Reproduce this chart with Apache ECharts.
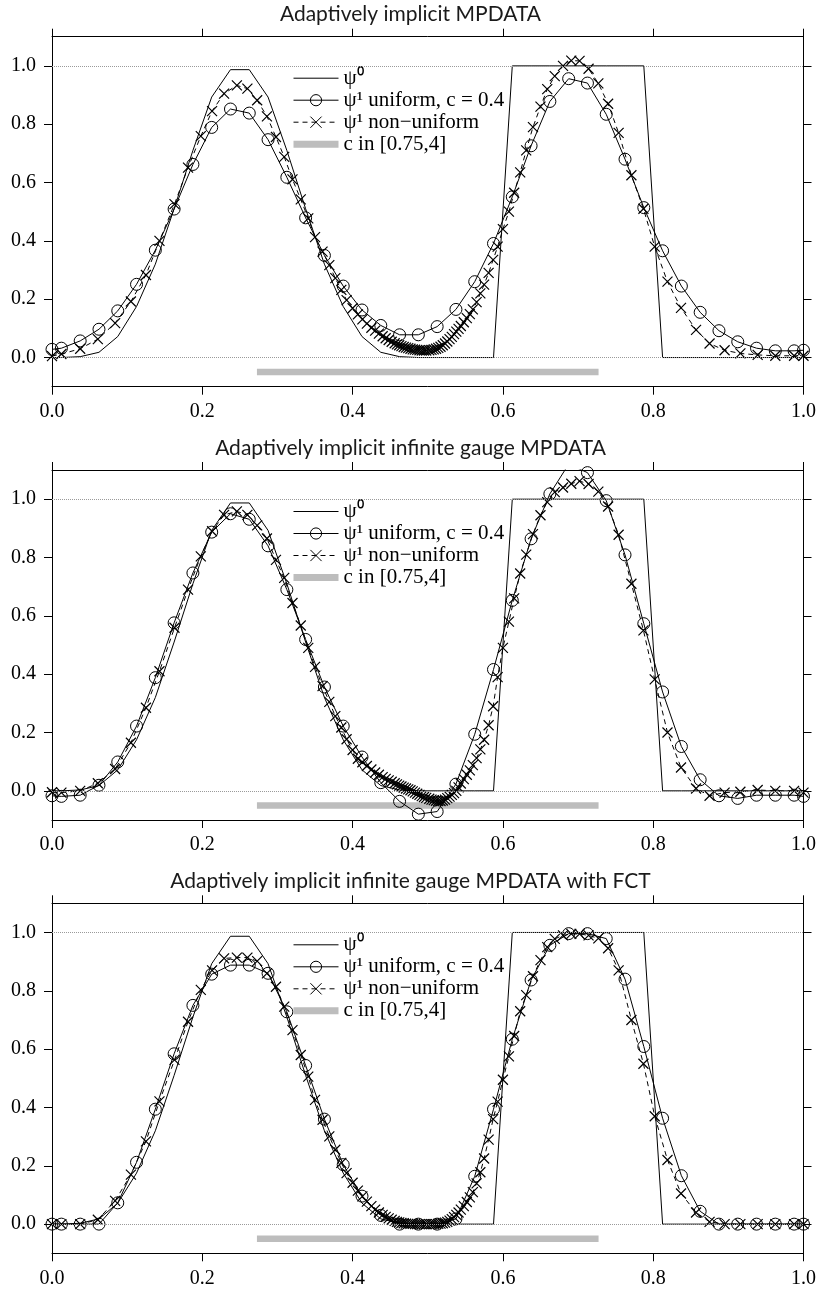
<!DOCTYPE html>
<html><head><meta charset="utf-8">
<script src="https://cdn.jsdelivr.net/npm/echarts@6/dist/echarts.min.js"></script>
<style>html,body{margin:0;padding:0;background:#fff}#c{width:821px;height:1290px}</style>
</head><body><div id="c"></div>
<script>
// ---------------- data ----------------
const panelTitles = ['Adaptively implicit MPDATA', 'Adaptively implicit infinite gauge MPDATA', 'Adaptively implicit infinite gauge MPDATA with FCT'];
const seriesNames = ['ψ⁰', 'ψ¹ uniform, c = 0.4', 'ψ¹ non−uniform', 'c in [0.75,4]'];
const xTicks = [0, 0.2, 0.4, 0.6, 0.8, 1.0];
const yTicks = [0, 0.2, 0.4, 0.6, 0.8, 1.0];

const xUniform = [0, 0.0125, 0.0375, 0.0625, 0.0875, 0.1125, 0.1375, 0.1625, 0.1875, 0.2125, 0.2375, 0.2625, 0.2875, 0.3125, 0.3375, 0.3625, 0.3875, 0.4125, 0.4375, 0.4625, 0.4875, 0.5125, 0.5375, 0.5625, 0.5875, 0.6125, 0.6375, 0.6625, 0.6875, 0.7125, 0.7375, 0.7625, 0.7875, 0.8125, 0.8375, 0.8625, 0.8875, 0.9125, 0.9375, 0.9625, 0.9875, 1];

const psi0 = [0, 0, 0.003, 0.018, 0.072, 0.175, 0.32, 0.51, 0.71, 0.893, 0.987, 0.987, 0.893, 0.71, 0.51, 0.32, 0.175, 0.072, 0.018, 0.003, 0,
  0, 0, 0, 0, 1, 1, 1, 1, 1, 1, 1, 1, 0, 0, 0, 0, 0, 0, 0, 0, 0];

const psi1UniformA = [0.028, 0.032, 0.057, 0.097, 0.160, 0.251, 0.368, 0.509, 0.662, 0.789, 0.852, 0.838, 0.747, 0.618, 0.479, 0.350, 0.245, 0.163, 0.110, 0.078, 0.078,
  0.106, 0.165, 0.260, 0.391, 0.551, 0.726, 0.878, 0.956, 0.941, 0.834, 0.680, 0.514, 0.366, 0.245, 0.155, 0.092, 0.054, 0.032, 0.023, 0.023, 0.025];
const psi1UniformB = [-0.017, -0.019, -0.015, 0.019, 0.099, 0.222, 0.388, 0.576, 0.747, 0.887, 0.950, 0.931, 0.840, 0.690, 0.519, 0.356, 0.222, 0.116, 0.028, -0.036, -0.080,
  -0.071, 0.023, 0.194, 0.416, 0.653, 0.864, 1.018, 1.12, 1.091, 0.995, 0.809, 0.573, 0.339, 0.152, 0.038, -0.017, -0.026, -0.015, -0.015, -0.015, -0.019];
const psi1UniformC = [0, 0, 0, 0, 0.073, 0.212, 0.394, 0.584, 0.750, 0.857, 0.888, 0.888, 0.860, 0.728, 0.544, 0.360, 0.204, 0.096, 0.030, 0, 0,
  0, 0.018, 0.164, 0.394, 0.634, 0.837, 0.956, 0.996, 0.996, 0.979, 0.840, 0.609, 0.363, 0.166, 0.044, 0, 0, 0, 0, 0, 0];

const xNonUniform = [0, 0.0125, 0.0375, 0.061, 0.084, 0.105, 0.125, 0.143, 0.163, 0.181, 0.198, 0.213, 0.229, 0.246, 0.260, 0.273, 0.286, 0.298, 0.309, 0.320, 0.331, 0.341, 0.350, 0.360, 0.369, 0.377, 0.385, 0.392, 0.400, 0.407, 0.413, 0.419, 0.425, 0.430, 0.435, 0.440, 0.444, 0.448, 0.452, 0.456, 0.459, 0.462, 0.465, 0.468, 0.471, 0.474, 0.477, 0.480, 0.483, 0.486, 0.489, 0.492, 0.495, 0.498,
  0.502, 0.505, 0.508, 0.511, 0.514, 0.517, 0.520, 0.523, 0.526, 0.529, 0.532, 0.535, 0.538, 0.541, 0.544, 0.548, 0.552, 0.556, 0.560, 0.565, 0.570, 0.575, 0.581, 0.587, 0.593, 0.600, 0.608, 0.615, 0.623, 0.631, 0.640, 0.650, 0.659, 0.669, 0.680, 0.691, 0.702, 0.714, 0.727, 0.740, 0.754, 0.771, 0.787, 0.802, 0.819, 0.837, 0.857, 0.875, 0.895, 0.916, 0.939, 0.9625, 0.9875, 1];

const psi1NonUniformA = [0.005, 0.012, 0.030, 0.063, 0.118, 0.192, 0.283, 0.400, 0.526, 0.651, 0.759, 0.845, 0.905, 0.933, 0.922, 0.882, 0.827, 0.756, 0.688, 0.611, 0.542, 0.477, 0.413, 0.363, 0.317, 0.272, 0.232, 0.197, 0.169, 0.148, 0.131, 0.116, 0.102, 0.092, 0.082, 0.073, 0.066, 0.060, 0.054, 0.049, 0.045, 0.042, 0.039, 0.036, 0.034, 0.032, 0.030, 0.028, 0.027, 0.026, 0.025, 0.024, 0.024, 0.024,
  0.025, 0.026, 0.028, 0.030, 0.033, 0.037, 0.042, 0.048, 0.055, 0.063, 0.071, 0.080, 0.089, 0.098, 0.108, 0.121, 0.135, 0.149, 0.165, 0.19, 0.22, 0.25, 0.29, 0.335, 0.38, 0.44, 0.50, 0.565, 0.635, 0.71, 0.79, 0.86, 0.92, 0.965, 1.0, 1.018, 1.017, 0.99, 0.94, 0.87, 0.77, 0.625, 0.51, 0.38, 0.26, 0.17, 0.095, 0.048, 0.025, 0.014, 0.009, 0.006, 0.006, 0.006];
const psi1NonUniformB = [-0.005, -0.006, 0.0, 0.026, 0.075, 0.165, 0.285, 0.41, 0.559, 0.69, 0.804, 0.89, 0.946, 0.958, 0.946, 0.91, 0.865, 0.792, 0.73, 0.644, 0.567, 0.49, 0.425, 0.359, 0.305, 0.256, 0.217, 0.177, 0.14, 0.11, 0.098, 0.085, 0.073, 0.063, 0.055, 0.047, 0.041, 0.036, 0.031, 0.026, 0.022, 0.018, 0.015, 0.011, 0.008, 0.005, 0.002, -0.002, -0.006, -0.010, -0.014, -0.018, -0.021, -0.024,
  -0.027, -0.030, -0.032, -0.034, -0.035, -0.035, -0.033, -0.030, -0.025, -0.020, -0.014, -0.008, 0.0, 0.012, 0.025, 0.040, 0.055, 0.070, 0.088, 0.112, 0.142, 0.175, 0.225, 0.29, 0.39, 0.49, 0.58, 0.66, 0.745, 0.81, 0.88, 0.945, 0.99, 1.024, 1.04, 1.053, 1.062, 1.052, 1.026, 0.975, 0.878, 0.71, 0.55, 0.382, 0.2, 0.08, 0.008, -0.017, -0.006, -0.003, 0.003, 0.0, 0.0, -0.006];
const psi1NonUniformC = [0, 0, 0, 0.015, 0.08, 0.17, 0.284, 0.421, 0.563, 0.694, 0.803, 0.87, 0.911, 0.914, 0.914, 0.902, 0.86, 0.814, 0.746, 0.665, 0.58, 0.506, 0.426, 0.358, 0.301, 0.255, 0.21, 0.175, 0.142, 0.115, 0.095, 0.077, 0.062, 0.05, 0.04, 0.032, 0.025, 0.02, 0.015, 0.011, 0.008, 0.006, 0.004, 0.003, 0.002, 0.001, 0.001, 0.001, 0, 0, 0, 0, 0, 0,
  0, 0, 0, 0, 0.001, 0.002, 0.003, 0.005, 0.008, 0.012, 0.017, 0.024, 0.032, 0.04, 0.05, 0.062, 0.076, 0.092, 0.11, 0.14, 0.178, 0.225, 0.29, 0.36, 0.42, 0.495, 0.575, 0.645, 0.73, 0.785, 0.85, 0.905, 0.95, 0.978, 0.99, 0.995, 0.995, 0.99, 0.98, 0.946, 0.87, 0.70, 0.55, 0.37, 0.22, 0.105, 0.04, 0.008, 0, 0, 0, 0, 0, 0];

const cRange = [0.2727, 0.7273];
const cBarLevel = -0.05;
const refLevels = [0, 1];

// ---------------- layout ----------------
const gridTops = [36.7, 470, 903.3];
const gridLeft = 52, gridWidth = 751.5, gridHeight = 350;
const serif = 'Liberation Serif';
const labelRich = { s: { fontFamily: serif, fontSize: 20, color: '#000' } };

const uniformSets = [psi1UniformA, psi1UniformB, psi1UniformC];
const nonUniformSets = [psi1NonUniformA, psi1NonUniformB, psi1NonUniformC];
const zip = (xs, ys) => xs.map((x, k) => [x, ys[k]]);
const isYTick = v => yTicks.some(t => Math.abs(t - v) < 1e-6);

const grids = [], xAxes = [], yAxes = [], series = [], legends = [], graphics = [];

function xAxisDef(i, pos, labels) {
  return {
    type: 'value', gridIndex: i, position: pos, min: 0, max: 1, interval: 0.2,
    axisLine: { show: true, onZero: false, lineStyle: { color: '#000', width: 1 } },
    axisTick: { show: true, inside: false, length: 8, lineStyle: { color: '#000', width: 1 } },
    axisLabel: { show: labels, margin: 15, fontFamily: serif, fontSize: 20, color: '#000',
      formatter: v => '{s|' + v.toFixed(1) + '}', rich: labelRich },
    splitLine: { show: false }
  };
}
function yAxisDef(i, pos, labels) {
  return {
    type: 'value', gridIndex: i, position: pos, min: -0.1, max: 1.1, interval: 0.1,
    axisLine: { show: true, onZero: false, lineStyle: { color: '#000', width: 1 } },
    axisTick: { show: true, inside: false, length: 8, customValues: yTicks, lineStyle: { color: '#000', width: 1 } },
    axisLabel: { show: labels, margin: 16, fontFamily: serif, fontSize: 20, color: '#000',
      showMinLabel: true, showMaxLabel: true, hideOverlap: false,
      formatter: v => (isYTick(v) ? '{s|' + v.toFixed(1) + '}' : ''), rich: labelRich },
    splitLine: { show: false }
  };
}

for (let i = 0; i < 3; i++) {
  grids.push({ left: gridLeft, top: gridTops[i], width: gridWidth, height: gridHeight, show: false });
  xAxes.push(xAxisDef(i, 'bottom', true));
  xAxes.push(xAxisDef(i, 'top', false));
  yAxes.push(yAxisDef(i, 'left', true));
  yAxes.push(yAxisDef(i, 'right', false));
  const xi = 2 * i, yi = 2 * i;

  series.push({
    name: seriesNames[3], type: 'line', xAxisIndex: xi, yAxisIndex: yi,
    data: [[cRange[0], cBarLevel], [cRange[1], cBarLevel]],
    symbol: 'none', lineStyle: { color: '#bdbdbd', width: 6.5, cap: 'butt' }, z: 1, silent: true
  });
  series.push({
    name: seriesNames[0], type: 'line', xAxisIndex: xi, yAxisIndex: yi,
    data: zip(xUniform, psi0), symbol: 'none',
    lineStyle: { color: '#000', width: 1 }, z: 2, silent: true,
    markLine: {
      silent: true, symbol: 'none', label: { show: false }, animation: false,
      lineStyle: { type: 'dotted', color: '#9a9a9a', width: 1 },
      emphasis: { disabled: true },
      data: refLevels.map(v => ({ yAxis: v }))
    }
  });
  series.push({
    name: seriesNames[1], type: 'line', xAxisIndex: xi, yAxisIndex: yi,
    data: zip(xUniform, uniformSets[i]), symbol: 'circle', symbolSize: 12,
    itemStyle: { color: 'transparent', borderColor: '#000', borderWidth: 1 },
    lineStyle: { color: '#000', width: 1 }, z: 3, silent: true, clip: true
  });
  series.push({
    name: seriesNames[2], type: 'line', xAxisIndex: xi, yAxisIndex: yi,
    data: zip(xNonUniform, nonUniformSets[i]), symbol: 'path://M0,0L10,10M0,10L10,0', symbolSize: 10,
    itemStyle: { color: 'transparent', borderColor: '#000', borderWidth: 1.2 },
    lineStyle: { color: '#000', width: 1, type: [5, 4] }, z: 3, silent: true, clip: true
  });

  legends.push({
    orient: 'vertical', left: 285, top: gridTops[i] + 26, padding: 5,
    itemWidth: 45, itemHeight: 14, itemGap: 1, selectedMode: false,
    textStyle: { fontFamily: serif, fontSize: 21, lineHeight: 20, color: '#000' },
    data: [
      { name: seriesNames[0], lineStyle: { width: 1, color: '#000' }, itemStyle: { color: 'transparent', borderWidth: 0, opacity: 0 } },
      { name: seriesNames[1], lineStyle: { width: 1, color: '#000' }, itemStyle: { color: 'transparent', borderColor: '#000', borderWidth: 1 } },
      { name: seriesNames[2], lineStyle: { width: 1, color: '#000', type: [5, 4] }, itemStyle: { color: 'transparent', borderColor: '#000', borderWidth: 1 } },
      { name: seriesNames[3], lineStyle: { width: 7, color: '#bdbdbd' }, itemStyle: { color: 'transparent', borderWidth: 0, opacity: 0 } }
    ]
  });

  graphics.push({
    type: 'text', x: 410.5, y: gridTops[i] - 22, silent: true,
    style: { text: panelTitles[i], font: '21px Lato', fill: '#1a1a1a', align: 'center', verticalAlign: 'middle' }
  });
}

const chart = echarts.init(document.getElementById('c'), null, { renderer: 'canvas' });
chart.setOption({
  animation: false,
  backgroundColor: '#fff',
  textStyle: { fontFamily: serif },
  grid: grids, xAxis: xAxes, yAxis: yAxes, series: series, legend: legends,
  graphic: graphics, tooltip: { show: false }
});
</script></body></html>
